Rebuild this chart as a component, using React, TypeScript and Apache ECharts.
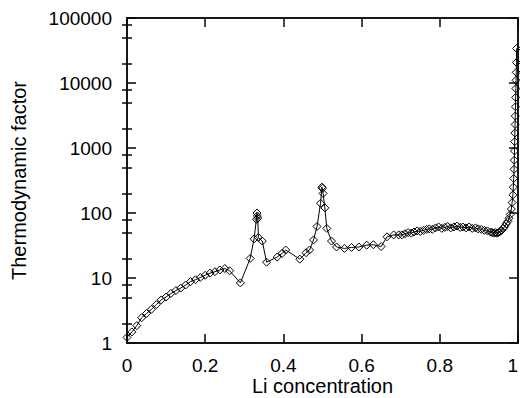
import React, { useEffect, useRef } from "react";
import * as echarts from "echarts";

const xValues: number[] = [
  0.0, 0.0125, 0.025, 0.0375, 0.05, 0.0625, 0.075, 0.0875, 0.1, 0.1125, 0.125, 0.1375, 0.15, 0.1625,
  0.175, 0.1875, 0.2, 0.2125, 0.225, 0.2375, 0.25, 0.2625, 0.29,
  0.315, 0.325, 0.331, 0.3325, 0.3333, 0.3345, 0.336, 0.346, 0.357,
  0.384, 0.397, 0.406, 0.442, 0.458, 0.467, 0.477, 0.486, 0.495, 0.4985, 0.5, 0.5015, 0.506, 0.511,
  0.523, 0.536, 0.556, 0.574, 0.593, 0.613, 0.63, 0.65, 0.665, 0.682, 0.695,
  0.703, 0.711, 0.719, 0.727, 0.734, 0.742, 0.75, 0.758, 0.766, 0.773, 0.781, 0.789, 0.797, 0.805,
  0.813, 0.82, 0.828, 0.836, 0.844, 0.852, 0.859, 0.867, 0.875, 0.883, 0.891, 0.898, 0.906, 0.914,
  0.922, 0.93, 0.934, 0.938, 0.942, 0.946, 0.95, 0.954, 0.958, 0.962, 0.966, 0.97, 0.974, 0.977,
  0.98, 0.983, 0.985, 0.987, 0.988, 0.989, 0.99, 0.9905, 0.991, 0.9915, 0.992, 0.9925, 0.993,
  0.9935, 0.994, 0.9945, 0.995, 0.9955, 0.996, 0.9965,
];

const factorValues: number[] = [
  1.22, 1.48, 1.85, 2.45, 2.85, 3.3, 3.9, 4.6, 5.1, 5.8, 6.4, 7.0, 7.8, 8.8,
  9.4, 10.2, 11.0, 11.9, 12.5, 13.3, 14.0, 12.9, 8.4,
  20, 40, 80, 100, 90, 83, 42, 37, 17.5,
  21, 24, 27, 19.5, 24.5, 27, 38.5, 62, 141, 250, 240, 200, 120, 58,
  37, 30, 28.5, 29.5, 30, 32, 32.5, 30.5, 43, 46, 46,
  46, 48, 50, 49, 51, 53, 52, 54, 56, 57, 56, 59, 61, 58,
  60, 62, 59, 61, 63, 60, 61, 59, 61, 58, 59, 57, 56, 54,
  53, 51, 50, 49, 50, 49, 50, 52, 54, 58, 62, 68, 74, 83,
  95, 115, 145, 190, 250, 340, 470, 650, 900, 1250, 1700, 2300, 3100,
  4300, 6000, 8200, 11000, 14600, 20700, 34000,
];

const xTicks: number[] = [0, 0.2, 0.4, 0.6, 0.8, 1];
const yMajorTicks: number[] = [1, 10, 100, 1000, 10000, 100000];
const yMinorTicks: number[] = [
  2, 5, 8, 20, 50, 80, 200, 500, 800, 2000, 5000, 8000, 20000, 50000, 80000,
];

const FONT = "'Liberation Sans', Arial, Helvetica, sans-serif";
const LINE_W = 1.5;
const INK = "#000";
const FRAME = "#0a0a0a";
const PLOT = { left: 127, right: 2, top: 18, bottom: 55 };
const W = 520;
const H = 398;

function makeTick(values: number[], length: number, color: string) {
  return {
    show: true,
    inside: true,
    length,
    customValues: values.slice(),
    lineStyle: { color, width: LINE_W },
  };
}

export default function App() {
  const ref = useRef<HTMLDivElement>(null);
  useEffect(() => {
    if (!ref.current) return;
    const chart = echarts.init(ref.current, null, { renderer: "svg" });
    const data = xValues.map((x, i) => [x, factorValues[i]]);
    chart.setOption({
      animation: false,
      backgroundColor: "#fff",
      grid: {
        ...PLOT,
        containLabel: false,
        outerBoundsMode: "none",
      },
      graphic: [
        {
          type: "rect",
          z: 100,
          silent: true,
          shape: {
            x: PLOT.left,
            y: PLOT.top,
            width: W - PLOT.left - PLOT.right,
            height: H - PLOT.top - PLOT.bottom,
          },
          style: { fill: "none", stroke: FRAME, lineWidth: LINE_W },
        },
      ],
      xAxis: [
        {
          type: "value",
          min: 0,
          max: 1,
          interval: 0.2,
          position: "bottom",
          splitLine: { show: false },
          axisLine: { show: true, onZero: false, lineStyle: { color: INK, width: LINE_W } },
          axisTick: makeTick(xTicks, 9, INK),
          name: "Li concentration",
          nameLocation: "middle",
          nameGap: 33,
          nameMoveOverlap: false,
          nameTextStyle: { fontFamily: FONT, fontSize: 20, color: INK },
          axisLabel: {
            fontFamily: FONT,
            fontSize: 19,
            color: INK,
            margin: 13,
            customValues: xTicks.slice(),
            alignMaxLabel: "right",
            formatter: (v: number) => String(v),
          },
        },
        {
          type: "value",
          min: 0,
          max: 1,
          interval: 0.2,
          position: "top",
          splitLine: { show: false },
          axisLine: { show: true, onZero: false, lineStyle: { color: FRAME, width: LINE_W } },
          axisTick: makeTick(xTicks, 9, FRAME),
          axisLabel: { show: false },
        },
      ],
      yAxis: [
        {
          type: "log",
          logBase: 10,
          min: 1,
          max: 100000,
          position: "left",
          splitLine: { show: false },
          axisLine: { show: true, onZero: false, lineStyle: { color: INK, width: LINE_W } },
          name: "Thermodynamic factor",
          nameLocation: "middle",
          nameGap: 98,
          nameRotate: 90,
          nameMoveOverlap: false,
          nameTextStyle: { fontFamily: FONT, fontSize: 20, color: INK },
          axisTick: makeTick(yMajorTicks, 9, INK),
          axisLabel: {
            fontFamily: FONT,
            fontSize: 19,
            color: INK,
            margin: 15,
            customValues: yMajorTicks.slice(),
            formatter: (v: number) => String(Math.round(v)),
          },
        },
        {
          type: "log",
          logBase: 10,
          min: 1,
          max: 100000,
          position: "right",
          splitLine: { show: false },
          axisLine: { show: true, onZero: false, lineStyle: { color: FRAME, width: LINE_W } },
          axisTick: makeTick(yMajorTicks, 9, FRAME),
          axisLabel: { show: false },
        },
        {
          type: "log",
          logBase: 10,
          min: 1,
          max: 100000,
          position: "left",
          splitLine: { show: false },
          axisLine: { show: false },
          axisTick: makeTick(yMinorTicks, 5, FRAME),
          axisLabel: { show: false },
        },
        {
          type: "log",
          logBase: 10,
          min: 1,
          max: 100000,
          position: "right",
          splitLine: { show: false },
          axisLine: { show: false },
          axisTick: makeTick(yMinorTicks, 5, FRAME),
          axisLabel: { show: false },
        },
      ],
      series: [
        {
          type: "line",
          xAxisIndex: 0,
          yAxisIndex: 0,
          data,
          symbol: "diamond",
          symbolSize: 8,
          showAllSymbol: true,
          clip: false,
          lineStyle: { color: INK, width: 1 },
          itemStyle: { color: "rgba(255,255,255,0)", borderColor: INK, borderWidth: 1 },
          emphasis: { disabled: true },
        },
      ],
    });
    return () => chart.dispose();
  }, []);
  return (
    <div
      ref={ref}
      style={{ position: "fixed", left: 0, top: 0, width: W, height: H, background: "#fff" }}
    />
  );
}
